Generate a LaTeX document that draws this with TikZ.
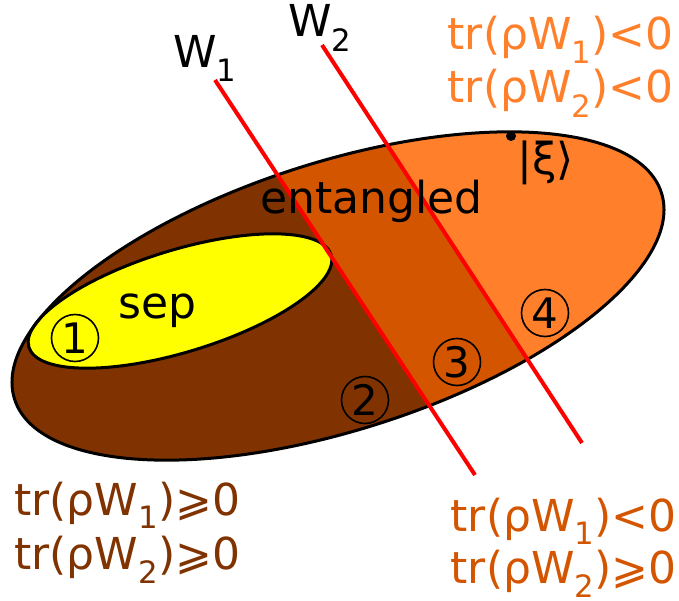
\documentclass[tikz,border=0pt]{standalone}
\usepackage{fontspec}
\setmainfont{DejaVu Sans}
\usetikzlibrary{calc}
\definecolor{sepYellow}{RGB}{255,255,0}
\definecolor{entDark}{RGB}{128,51,0}
\definecolor{entMid}{RGB}{212,85,0}
\definecolor{entLight}{RGB}{255,127,42}
\definecolor{witRed}{RGB}{255,0,0}

\begin{document}
\begin{tikzpicture}[
  x=1pt, y=-1pt,
  lbl/.style={font=\fontsize{44}{54}\selectfont, inner sep=0pt},
  num/.style={draw, circle, line width=1.6pt, minimum size=47pt, inner sep=0pt, font=\fontsize{42}{48}\selectfont},
  wit/.style={draw=witRed, line width=4pt},
  rim/.style={draw=black, line width=3pt},
  bigset/.style={rotate around={17.7:(338,296)}},
  sepset/.style={rotate around={17:(180,301)}}
]
\useasboundingbox (0,0) rectangle (679,601);
\coordinate (w1a) at (215,80);
\coordinate (w1b) at (475,475);
\coordinate (w2a) at (322,45);
\coordinate (w2b) at (582,443);

% regions cut by the two witnesses
\fill[entDark, bigset] (338,296) ellipse [x radius=339.5pt, y radius=134pt];
\begin{scope}
  \clip[bigset] (338,296) ellipse [x radius=339.5pt, y radius=134pt];
  \fill[entMid] ($(w1a)!-1!(w1b)$) -- ($(w1b)!-1!(w1a)$) -- ($(w2b)!-1!(w2a)$) -- ($(w2a)!-1!(w2b)$) -- cycle;
  \fill[entLight] ($(w2a)!-1!(w2b)$) -- ($(w2b)!-1!(w2a)$) -- (1200,900) -- (1200,-400) -- cycle;
\end{scope}
\filldraw[sepYellow, rim, sepset] (180,301) ellipse [x radius=158pt, y radius=51pt];
\draw[rim, bigset] (338,296) ellipse [x radius=339.5pt, y radius=134pt];

\draw[wit] (w1a) -- (w1b);
\draw[wit] (w2a) -- (w2b);
\fill (511,136) circle (5);

% labels
\node[lbl, anchor=base west] (w1) at (173,68) {W\textsubscript{1}};
\node[lbl, anchor=base west] (w2) at (288,37) {W\textsubscript{2}};
\node[lbl, anchor=base west] (ent) at (260,214) {entangled};
\node[lbl, anchor=base west] (sep) at (118,318) {sep};
\node[lbl, anchor=base west] (xi) at (517,175) {|ξ⟩};

\foreach \n/\p/\t in {n1/{(75,338)}/1, n2/{(365,400)}/2, n3/{(457,362)}/3, n4/{(545,313)}/4}
  \node[num] (\n) at \p {\t};

\node[lbl, anchor=base west, text=entDark] (ca1) at (14,515) {tr(ρW\textsubscript{1})⩾0};
\node[lbl, anchor=base west, text=entDark] (ca2) at (14,569) {tr(ρW\textsubscript{2})⩾0};
\node[lbl, anchor=base east, text=entMid] (cb1) at (677,531) {tr(ρW\textsubscript{1})<0};
\node[lbl, anchor=base east, text=entMid] (cb2) at (677,583) {tr(ρW\textsubscript{2})⩾0};
\node[lbl, anchor=base east, text=entLight] (cc1) at (674,50) {tr(ρW\textsubscript{1})<0};
\node[lbl, anchor=base east, text=entLight] (cc2) at (674,103) {tr(ρW\textsubscript{2})<0};
\end{tikzpicture}
\end{document}
